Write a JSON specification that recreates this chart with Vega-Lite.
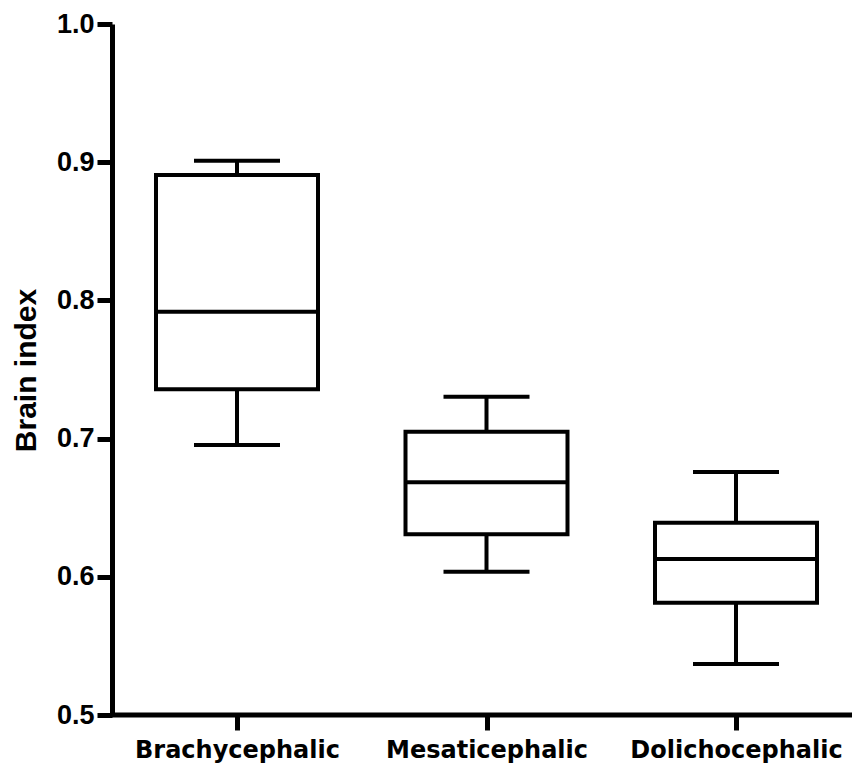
{
  "$schema": "https://vega.github.io/schema/vega-lite/v6.json",
  "width": 740,
  "height": 691,
  "autosize": {"type": "none"},
  "padding": {"left": 112, "top": 24, "right": 0, "bottom": 50},
  "background": "white",
  "config": {"view": {"stroke": null}},
  "data": {
    "values": [
      {"group": "Brachycephalic", "min": 0.6954, "q1": 0.7357, "median": 0.7918, "q3": 0.8907, "max": 0.9011},
      {"group": "Mesaticephalic", "min": 0.6037, "q1": 0.6308, "median": 0.6684, "q3": 0.705, "max": 0.7303},
      {"group": "Dolichocephalic", "min": 0.5369, "q1": 0.5813, "median": 0.6129, "q3": 0.6391, "max": 0.6758}
    ]
  },
  "layer": [
    {
      "mark": {"type": "rule", "color": "black", "strokeWidth": 4},
      "encoding": {
        "x": {
          "field": "group", "type": "nominal", "sort": null,
          "scale": {"type": "point", "range": [125, 624], "padding": 0},
          "axis": {
            "title": null, "domain": false, "tickSize": 15, "tickWidth": 5, "tickColor": "black",
            "labelFont": "DejaVu Sans", "labelFontWeight": "bold", "labelFontSize": 24,
            "labelColor": "black", "labelPadding": 8, "labelAngle": 0, "labelLimit": 0, "grid": false
          }
        },
        "y": {
          "field": "min", "type": "quantitative",
          "scale": {"domain": [0.5, 1.0], "nice": false, "zero": false},
          "axis": {
            "title": "Brain index", "values": [0.5, 0.6, 0.7, 0.8, 0.9, 1.0], "format": ".1f",
            "labelFont": "Liberation Sans", "labelFontWeight": "bold", "labelFontSize": 27,
            "labelColor": "black", "labelPadding": 3, "labelFlush": false, "labelOverlap": false,
            "tickSize": 15, "tickWidth": 5, "tickColor": "black",
            "domainColor": "black", "domainWidth": 5, "grid": false,
            "titleFont": "Liberation Sans", "titleFontSize": 30, "titleFontWeight": "bold",
            "titleColor": "black", "titleAngle": -90, "titleX": -86, "titleY": 346,
            "titleAlign": "center", "titleBaseline": "middle"
          }
        },
        "y2": {"field": "max"}
      }
    },
    {
      "mark": {"type": "bar", "width": 162, "fill": "white", "fillOpacity": 1, "stroke": "black", "strokeWidth": 4, "strokeJoin": "miter"},
      "encoding": {
        "x": {"field": "group", "type": "nominal", "sort": null},
        "y": {"field": "q1", "type": "quantitative"},
        "y2": {"field": "q3"}
      }
    },
    {
      "mark": {"type": "tick", "size": 162, "thickness": 4, "color": "black", "opacity": 1},
      "encoding": {
        "x": {"field": "group", "type": "nominal", "sort": null},
        "y": {"field": "median", "type": "quantitative"}
      }
    },
    {
      "mark": {"type": "tick", "size": 86, "thickness": 4, "color": "black", "opacity": 1},
      "encoding": {
        "x": {"field": "group", "type": "nominal", "sort": null},
        "y": {"field": "min", "type": "quantitative"}
      }
    },
    {
      "mark": {"type": "tick", "size": 86, "thickness": 4, "color": "black", "opacity": 1},
      "encoding": {
        "x": {"field": "group", "type": "nominal", "sort": null},
        "y": {"field": "max", "type": "quantitative"}
      }
    },
    {
      "data": {"values": [{"base": 0.5}]},
      "mark": {"type": "rule", "color": "black", "strokeWidth": 5},
      "encoding": {"y": {"field": "base", "type": "quantitative"}}
    }
  ]
}
